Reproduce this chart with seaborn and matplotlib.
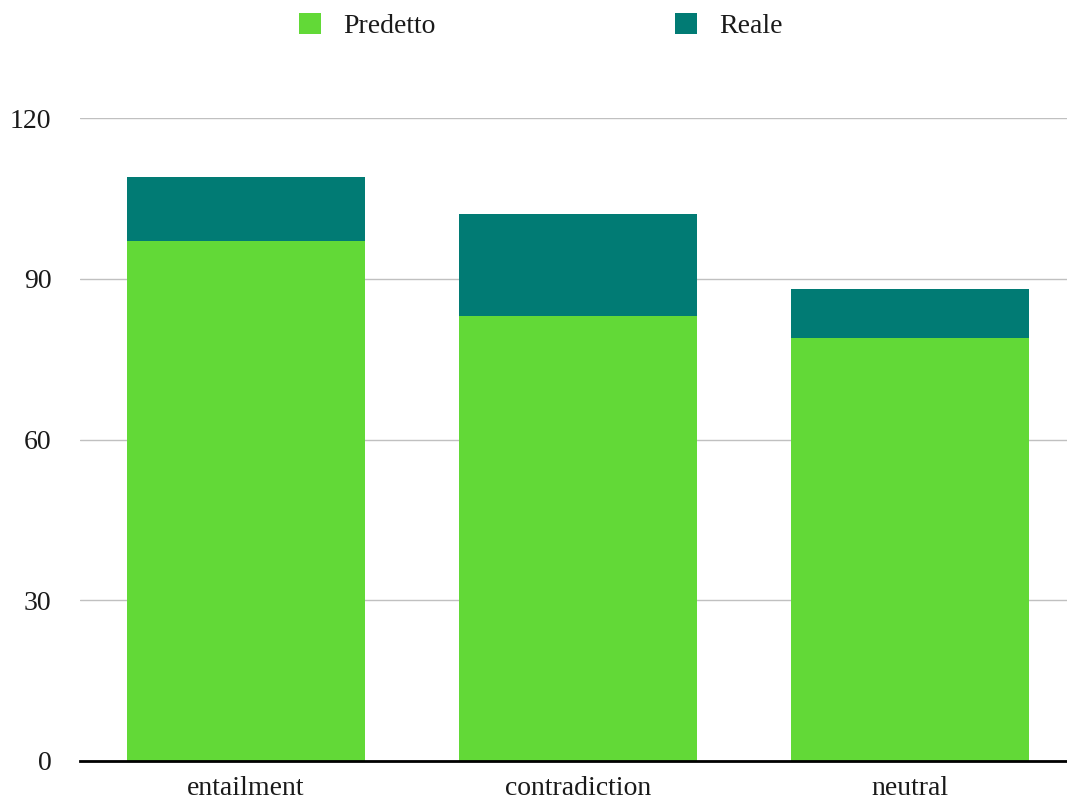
import matplotlib
matplotlib.use("Agg")
import matplotlib.pyplot as plt
from matplotlib.patches import Patch
import seaborn as sns
import pandas as pd

categories = ["entailment", "contradiction", "neutral"]
predetto = [97, 83, 79]
reale = [12, 19, 9]

GREEN = "#62D937"
TEAL = "#017B74"

sns.set_theme(style="white")
plt.rcParams["font.family"] = ["Liberation Serif", "DejaVu Serif"]

df = pd.DataFrame({
    "categoria": categories,
    "Predetto": predetto,
    "Reale": reale,
})
df["totale"] = df["Predetto"] + df["Reale"]

W, H = 1067, 801
fig = plt.figure(figsize=(W / 100, H / 100), dpi=100)
ax = fig.add_axes([80 / W, 40 / H, (1076 - 80) / W, 643 / H])

# stacked bars: full height in teal, lower segment in green
bar_kw = dict(width=0.717, saturation=1, ax=ax, zorder=3,
              edgecolor="none", linewidth=0)
sns.barplot(data=df, x="categoria", y="totale", color=TEAL, **bar_kw)
sns.barplot(data=df, x="categoria", y="Predetto", color=GREEN, **bar_kw)

ax.set_ylim(0, 120)
ax.set_xlim(-0.5, 2.5)
ax.set_yticks([0, 30, 60, 90, 120])
ax.set_xlabel("")
ax.set_ylabel("")
ax.yaxis.grid(True, color="#C0C0C0", linewidth=1)
ax.set_axisbelow(True)
for side in ["top", "right", "left"]:
    ax.spines[side].set_visible(False)
ax.spines["bottom"].set_color("black")
ax.spines["bottom"].set_linewidth(2)
ax.spines["bottom"].set_zorder(5)
ax.tick_params(axis="both", length=0, labelsize=20, colors="#1a1a1a")
ax.tick_params(axis="y", pad=20.5)
ax.tick_params(axis="x", pad=10.5)

handles = [Patch(facecolor=GREEN, edgecolor="none", label="Predetto"),
           Patch(facecolor=TEAL, edgecolor="none", label="Reale")]
fig.legend(handles=handles, loc="center", bbox_to_anchor=(541 / W, 1 - 26 / H),
           ncol=2, frameon=False, fontsize=20, handlelength=0.8,
           handleheight=0.8, handletextpad=0.8, columnspacing=8.6,
           labelcolor="#1a1a1a")

fig.savefig("out.png", dpi=100)
